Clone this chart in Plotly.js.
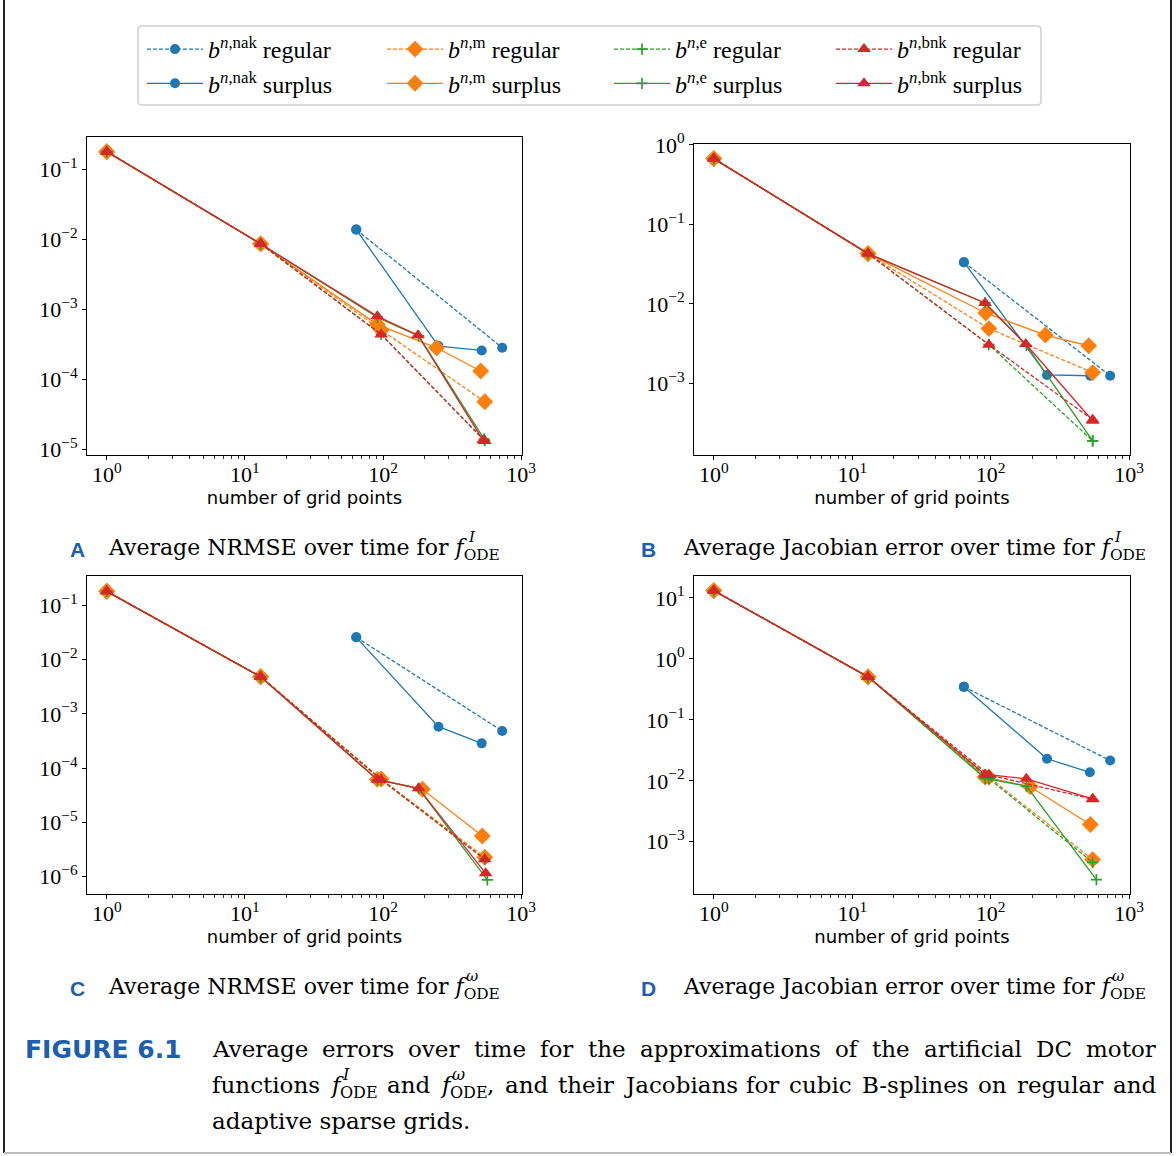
<!DOCTYPE html>
<html>
<head>
<meta charset="utf-8">
<script src="https://cdn.plot.ly/plotly-3.0.1.min.js"></script>
<style>
  html, body { margin: 0; padding: 0; background: #ffffff; }
  #fig { width: 1176px; height: 1156px; }
</style>
</head>
<body>
<div id="fig"></div>
<script>
// Grid sizes (number of grid points)
const xRegular = [1, 13, 97, 545];
const xNakRegular = [64, 729];

// Panel A: average NRMSE over time for f_ODE^I
const A_nakRegularY = [1.39e-2, 2.84e-4];
const A_nakSurplusX = [64, 252, 518];
const A_nakSurplusY = [1.39e-2, 3.0e-4, 2.6e-4];
const A_mRegularY = [0.181, 8.7e-3, 5.1e-4, 4.8e-5];
const A_mSurplusX = [1, 13, 91, 244, 509];
const A_mSurplusY = [0.181, 8.7e-3, 6.1e-4, 2.84e-4, 1.32e-4];
const A_eRegularY = [0.181, 8.7e-3, 4.4e-4, 1.33e-5];
const A_eSurplusX = [1, 13, 91, 181, 540];
const A_eSurplusY = [0.181, 8.7e-3, 7.7e-4, 4.2e-4, 1.4e-5];
const A_bnkRegularY = [0.181, 8.7e-3, 4.4e-4, 1.32e-5];
const A_bnkSurplusX = [1, 13, 91, 179, 530];
const A_bnkSurplusY = [0.181, 8.7e-3, 8.0e-4, 4.3e-4, 1.35e-5];

// Panel B: average Jacobian error over time for f_ODE^I
const B_nakRegularY = [3.35e-2, 1.25e-3];
const B_nakSurplusX = [64, 255, 524];
const B_nakSurplusY = [3.35e-2, 1.28e-3, 1.25e-3];
const B_mRegularY = [0.674, 4.3e-2, 4.9e-3, 1.37e-3];
const B_mSurplusX = [1, 13, 92, 248, 510];
const B_mSurplusY = [0.674, 4.3e-2, 7.7e-3, 4.06e-3, 2.98e-3];
const B_eRegularY = [0.674, 4.3e-2, 3.07e-3, 1.9e-4];
const B_eSurplusX = [1, 13, 91, 181, 545];
const B_eSurplusY = [0.674, 4.3e-2, 1.03e-2, 3.0e-3, 1.9e-4];
const B_bnkRegularY = [0.674, 4.3e-2, 3.07e-3, 3.5e-4];
const B_bnkSurplusX = [1, 13, 91, 179, 545];
const B_bnkSurplusY = [0.674, 4.3e-2, 1.03e-2, 3.13e-3, 3.4e-4];

// Panel C: average NRMSE over time for f_ODE^omega
const C_nakRegularY = [2.57e-2, 4.83e-4];
const C_nakSurplusX = [64, 252, 518];
const C_nakSurplusY = [2.57e-2, 5.8e-4, 2.86e-4];
const C_mRegularY = [0.181, 4.83e-3, 6.3e-5, 2.28e-6];
const C_mSurplusX = [1, 13, 91, 193, 523];
const C_mSurplusY = [0.181, 4.83e-3, 6.2e-5, 4.07e-5, 5.6e-6];
const C_eRegularY = [0.181, 4.83e-3, 6.1e-5, 2.1e-6];
const C_eSurplusX = [1, 13, 91, 181, 569];
const C_eSurplusY = [0.181, 4.83e-3, 6.1e-5, 4.2e-5, 8.7e-7];
const C_bnkRegularY = [0.181, 4.83e-3, 6.1e-5, 2.09e-6];
const C_bnkSurplusX = [1, 13, 91, 181, 553];
const C_bnkSurplusY = [0.181, 4.83e-3, 6.1e-5, 4.25e-5, 1.15e-6];

// Panel D: average Jacobian error over time for f_ODE^omega
const D_nakRegularY = [0.348, 2.15e-2];
const D_nakSurplusX = [64, 255, 520];
const D_nakSurplusY = [0.348, 2.3e-2, 1.38e-2];
const D_mRegularY = [13.2, 0.507, 1.15e-2, 5.1e-4];
const D_mSurplusX = [1, 13, 91, 193, 524];
const D_mSurplusY = [13.2, 0.507, 1.15e-2, 7.98e-3, 1.92e-3];
const D_eRegularY = [13.2, 0.507, 1.08e-2, 4.6e-4];
const D_eSurplusX = [1, 13, 91, 181, 580];
const D_eSurplusY = [13.2, 0.507, 1.1e-2, 8.2e-3, 2.4e-4];
const D_bnkRegularY = [13.2, 0.507, 1.25e-2, 5.0e-3];
const D_bnkSurplusX = [1, 13, 91, 181, 545];
const D_bnkSurplusY = [13.2, 0.507, 1.27e-2, 1.08e-2, 5.07e-3];

// Axis tick labels
const xTickVals = [1, 10, 100, 1000];
const xTickText = ['10<sup>0</sup>', '10<sup>1</sup>', '10<sup>2</sup>', '10<sup>3</sup>'];
const xMinorVals = [2,3,4,5,6,7,8,9,20,30,40,50,60,70,80,90,200,300,400,500,600,700,800,900];
const yTickValsA = [1e-1, 1e-2, 1e-3, 1e-4, 1e-5];
const yTickTextA = ['10<sup>\u22121</sup>', '10<sup>\u22122</sup>', '10<sup>\u22123</sup>', '10<sup>\u22124</sup>', '10<sup>\u22125</sup>'];
const yTickValsB = [1, 1e-1, 1e-2, 1e-3];
const yTickTextB = ['10<sup>0</sup>', '10<sup>\u22121</sup>', '10<sup>\u22122</sup>', '10<sup>\u22123</sup>'];
const yTickValsC = [1e-1, 1e-2, 1e-3, 1e-4, 1e-5, 1e-6];
const yTickTextC = ['10<sup>\u22121</sup>', '10<sup>\u22122</sup>', '10<sup>\u22123</sup>', '10<sup>\u22124</sup>', '10<sup>\u22125</sup>', '10<sup>\u22126</sup>'];
const yTickValsD = [10, 1, 1e-1, 1e-2, 1e-3];
const yTickTextD = ['10<sup>1</sup>', '10<sup>0</sup>', '10<sup>\u22121</sup>', '10<sup>\u22122</sup>', '10<sup>\u22123</sup>'];

// Series names
const basisNames = ['<i>b</i><sup><i>n</i>,nak</sup>', '<i>b</i><sup><i>n</i>,m</sup>', '<i>b</i><sup><i>n</i>,e</sup>', '<i>b</i><sup><i>n</i>,bnk</sup>'];

// Figure caption
const captionLine1 = 'Average errors over time for the approximations of the artificial DC motor';
const captionLine2Tail = 'and their Jacobians for cubic B-splines on regular and';
const captionLine3 = 'adaptive sparse grids.';

const W = 1176, H = 1156;
const px = v => v / W;
const py = v => 1 - v / H;

const COLORS = { nak: '#1f77b4', m: '#ff7f0e', e: '#2ca02c', bnk: '#d62728' };
const MARKERS = {
  nak: { symbol: 'circle', size: 10 },
  m: { symbol: 'diamond', size: 13 },
  e: { symbol: 'cross-thin', size: 8 },
  bnk: { symbol: 'triangle-up', size: 12 }
};
const DASH = '4px,2px';
// one legend column per basis
const LEGEND_OF = ['legend', 'legend2', 'legend3', 'legend4'];

function series(key, idx, kind, x, y, xa, ya, show) {
  const color = COLORS[key];
  const mk = MARKERS[key];
  const marker = { symbol: mk.symbol, size: mk.size, color: color };
  if (key === 'e') marker.line = { color: color, width: 1.7 };
  else marker.line = { width: 0 };
  return {
    type: 'scatter', mode: 'lines+markers',
    x: x, y: y, xaxis: xa, yaxis: ya,
    name: basisNames[idx] + ' ' + kind,
    legend: LEGEND_OF[idx],
    showlegend: show,
    line: { color: color, width: 1.3, dash: kind === 'regular' ? DASH : 'solid' },
    marker: marker,
    hoverinfo: 'x+y+name'
  };
}

function panel(P, xa, ya, show) {
  return [
    series('nak', 0, 'regular', xNakRegular, P.nakRegularY, xa, ya, show),
    series('nak', 0, 'surplus', P.nakSurplusX, P.nakSurplusY, xa, ya, show),
    series('m', 1, 'regular', xRegular, P.mRegularY, xa, ya, show),
    series('m', 1, 'surplus', P.mSurplusX, P.mSurplusY, xa, ya, show),
    series('e', 2, 'regular', xRegular, P.eRegularY, xa, ya, show),
    series('e', 2, 'surplus', P.eSurplusX, P.eSurplusY, xa, ya, show),
    series('bnk', 3, 'regular', xRegular, P.bnkRegularY, xa, ya, show),
    series('bnk', 3, 'surplus', P.bnkSurplusX, P.bnkSurplusY, xa, ya, show)
  ];
}

const data = [].concat(
  panel({ nakRegularY: A_nakRegularY, nakSurplusX: A_nakSurplusX, nakSurplusY: A_nakSurplusY,
          mRegularY: A_mRegularY, mSurplusX: A_mSurplusX, mSurplusY: A_mSurplusY,
          eRegularY: A_eRegularY, eSurplusX: A_eSurplusX, eSurplusY: A_eSurplusY,
          bnkRegularY: A_bnkRegularY, bnkSurplusX: A_bnkSurplusX, bnkSurplusY: A_bnkSurplusY }, 'x', 'y', true),
  panel({ nakRegularY: B_nakRegularY, nakSurplusX: B_nakSurplusX, nakSurplusY: B_nakSurplusY,
          mRegularY: B_mRegularY, mSurplusX: B_mSurplusX, mSurplusY: B_mSurplusY,
          eRegularY: B_eRegularY, eSurplusX: B_eSurplusX, eSurplusY: B_eSurplusY,
          bnkRegularY: B_bnkRegularY, bnkSurplusX: B_bnkSurplusX, bnkSurplusY: B_bnkSurplusY }, 'x2', 'y2', false),
  panel({ nakRegularY: C_nakRegularY, nakSurplusX: C_nakSurplusX, nakSurplusY: C_nakSurplusY,
          mRegularY: C_mRegularY, mSurplusX: C_mSurplusX, mSurplusY: C_mSurplusY,
          eRegularY: C_eRegularY, eSurplusX: C_eSurplusX, eSurplusY: C_eSurplusY,
          bnkRegularY: C_bnkRegularY, bnkSurplusX: C_bnkSurplusX, bnkSurplusY: C_bnkSurplusY }, 'x3', 'y3', false),
  panel({ nakRegularY: D_nakRegularY, nakSurplusX: D_nakSurplusX, nakSurplusY: D_nakSurplusY,
          mRegularY: D_mRegularY, mSurplusX: D_mSurplusX, mSurplusY: D_mSurplusY,
          eRegularY: D_eRegularY, eSurplusX: D_eSurplusX, eSurplusY: D_eSurplusY,
          bnkRegularY: D_bnkRegularY, bnkSurplusX: D_bnkSurplusX, bnkSurplusY: D_bnkSurplusY }, 'x4', 'y4', false)
);

const TICK_FONT = { family: 'Liberation Serif, serif', size: 22, color: '#000' };

function xAxis(left, right, anchor) {
  return {
    type: 'log', domain: [px(left), px(right)], anchor: anchor,
    range: [-0.143, 3.006],
    tickmode: 'array', tickvals: xTickVals, ticktext: xTickText,
    ticks: 'outside', ticklen: 4, tickwidth: 1, tickcolor: '#000',
    ticklabelstandoff: -4,
    minor: { tickmode: 'array', tickvals: xMinorVals, ticks: 'outside', ticklen: 2.5, tickwidth: 0.8, tickcolor: '#000', showgrid: false },
    showline: true, linecolor: '#000', linewidth: 1, mirror: true,
    showgrid: false, zeroline: false,
    tickfont: TICK_FONT,
    title: { text: 'number of grid points', standoff: 0,
             font: { family: 'DejaVu Sans, sans-serif', size: 18, color: '#000' } },
    automargin: false
  };
}

function yAxis(top, bottom, anchor, range, vals, text) {
  return {
    type: 'log', domain: [py(bottom), py(top)], anchor: anchor,
    range: range,
    tickmode: 'array', tickvals: vals, ticktext: text,
    ticks: 'outside', ticklen: 4, tickwidth: 1, tickcolor: '#000',
    showline: true, linecolor: '#000', linewidth: 1, mirror: true,
    showgrid: false, zeroline: false,
    tickfont: TICK_FONT,
    automargin: false
  };
}

const SERIF = 'DejaVu Serif';
const LABEL_BLUE = '#1b5fae';

function note(text, x, y, size, opts) {
  opts = opts || {};
  return {
    text: text, xref: 'paper', yref: 'paper', x: px(x), y: py(y),
    xanchor: opts.xanchor || 'left', yanchor: 'middle', showarrow: false, borderpad: 0,
    font: { family: opts.family || (SERIF + ', serif'), size: size, color: opts.color || '#000' }
  };
}

// Panel captions: bold letter, text, and a superscript stacked over the ODE subscript
function panelCaption(letter, body, sup, xLetter, xRight, xSup, y) {
  return [
    note('<b>' + letter + '</b>', xLetter, y, 21, { family: 'Liberation Sans, sans-serif', color: LABEL_BLUE }),
    note(body + ' <i>f</i><sub>ODE</sub>', xRight, y, 22, { xanchor: 'right' }),
    note(sup, xSup, y - 12, 15)
  ];
}

// Text measurement for the justified figure caption
const measureCtx = document.createElement('canvas').getContext('2d');
function textWidth(str, size, italic) {
  measureCtx.font = (italic ? 'italic ' : '') + size + 'px "' + SERIF + '"';
  return measureCtx.measureText(str).width;
}

const CAP_SIZE = 23;
const SUB_SIZE = 16;
const CAP_LEFT = 211, CAP_RIGHT = 1155;

// A caption token is either a plain word or f with a stacked sub/superscript
function fToken(sup, trailing) {
  const wf = textWidth('f', CAP_SIZE, true);
  const wsub = textWidth('ODE', SUB_SIZE, false);
  const wsup = textWidth(sup, SUB_SIZE, true);
  const wt = trailing ? textWidth(trailing, CAP_SIZE, false) : 0;
  return {
    width: wf + Math.max(wsub, wsup) + 1 + wt,
    place(x, y) {
      const out = [
        note('<i>f</i>', x, y, CAP_SIZE),
        note('ODE', x + wf + 1, y + 7, SUB_SIZE),
        note('<i>' + sup + '</i>', x + wf + 3, y - 11, SUB_SIZE)
      ];
      if (trailing) out.push(note(trailing, x + wf + 1 + wsub, y, CAP_SIZE));
      return out;
    }
  };
}
function wordToken(w) {
  return { width: textWidth(w, CAP_SIZE, false), place: (x, y) => [note(w, x, y, CAP_SIZE)] };
}

function justifiedLine(tokens, y) {
  const total = tokens.reduce((s, t) => s + t.width, 0);
  const gap = (CAP_RIGHT - CAP_LEFT - total) / (tokens.length - 1);
  let x = CAP_LEFT;
  let out = [];
  tokens.forEach(t => { out = out.concat(t.place(x, y)); x += t.width + gap; });
  return out;
}

const line1Tokens = captionLine1.split(' ').map(wordToken);
const line2Tokens = [wordToken('functions'), fToken('I'), wordToken('and'), fToken('\u03c9', ',')]
  .concat(captionLine2Tail.split(' ').map(wordToken));

const annotations = [].concat(
  panelCaption('A', 'Average NRMSE over time for', '<i>I</i>', 69, 501, 467, 549),
  panelCaption('B', 'Average Jacobian error over time for', '<i>I</i>', 640, 1147, 1113, 549),
  panelCaption('C', 'Average NRMSE over time for', '<i>\u03c9</i>', 69, 501, 465, 988),
  panelCaption('D', 'Average Jacobian error over time for', '<i>\u03c9</i>', 640, 1147, 1111, 988),
  [note('<b>FIGURE 6.1</b>', 24, 1049, 25, { family: 'DejaVu Sans, sans-serif', color: LABEL_BLUE })],
  justifiedLine(line1Tokens, 1049),
  justifiedLine(line2Tokens, 1085),
  [note(captionLine3, CAP_LEFT, 1121, CAP_SIZE)]
);

// Legend: four two-row columns inside one framed box
function legendColumn(xLeft) {
  return {
    orientation: 'v', x: px(xLeft), y: py(27), xanchor: 'left', yanchor: 'top',
    bgcolor: 'rgba(0,0,0,0)', borderwidth: 0,
    font: { family: 'Liberation Serif, serif', size: 24, color: '#000' },
    itemwidth: 56, traceorder: 'normal', itemclick: false, itemdoubleclick: false
  };
}

function roundedRect(x0, y0, x1, y1, r) {
  const X = v => px(v), Y = v => py(v);
  return 'M' + X(x0 + r) + ',' + Y(y0) +
    ' L' + X(x1 - r) + ',' + Y(y0) + ' Q' + X(x1) + ',' + Y(y0) + ' ' + X(x1) + ',' + Y(y0 + r) +
    ' L' + X(x1) + ',' + Y(y1 - r) + ' Q' + X(x1) + ',' + Y(y1) + ' ' + X(x1 - r) + ',' + Y(y1) +
    ' L' + X(x0 + r) + ',' + Y(y1) + ' Q' + X(x0) + ',' + Y(y1) + ' ' + X(x0) + ',' + Y(y1 - r) +
    ' L' + X(x0) + ',' + Y(y0 + r) + ' Q' + X(x0) + ',' + Y(y0) + ' ' + X(x0 + r) + ',' + Y(y0) + ' Z';
}

const layout = {
  width: W, height: H,
  margin: { l: 0, r: 0, t: 0, b: 0 },
  paper_bgcolor: '#ffffff', plot_bgcolor: '#ffffff',
  showlegend: true,
  legend: legendColumn(142),
  legend2: legendColumn(382),
  legend3: legendColumn(609),
  legend4: legendColumn(831),
  xaxis: xAxis(87, 522, 'y'),
  yaxis: yAxis(137, 455, 'x', [-5.08, -0.533], yTickValsA, yTickTextA),
  xaxis2: xAxis(694, 1130, 'y2'),
  yaxis2: yAxis(144, 455, 'x2', [-3.9, 0.012], yTickValsB, yTickTextB),
  xaxis3: xAxis(87, 522, 'y3'),
  yaxis3: yAxis(576, 894, 'x3', [-6.32, -0.46], yTickValsC, yTickTextC),
  xaxis4: xAxis(694, 1130, 'y4'),
  yaxis4: yAxis(576, 894, 'x4', [-3.857, 1.36], yTickValsD, yTickTextD),
  annotations: annotations,
  shapes: [
    { type: 'path', xref: 'paper', yref: 'paper', layer: 'below', path: roundedRect(138, 26, 1041, 105, 4),
      fillcolor: '#ffffff', line: { color: '#d0d0d0', width: 1.5 } },
    { type: 'line', xref: 'paper', yref: 'paper', x0: px(4), x1: px(4), y0: py(0), y1: py(1153), line: { color: '#222', width: 2 } },
    { type: 'line', xref: 'paper', yref: 'paper', x0: px(1171), x1: px(1171), y0: py(0), y1: py(1153), line: { color: '#222', width: 2 } },
    { type: 'line', xref: 'paper', yref: 'paper', x0: px(4), x1: px(1171), y0: py(1153), y1: py(1153), line: { color: '#bbbbbb', width: 2 } }
  ]
};

Plotly.newPlot('fig', data, layout, { staticPlot: true, displayModeBar: false });
</script>
</body>
</html>
